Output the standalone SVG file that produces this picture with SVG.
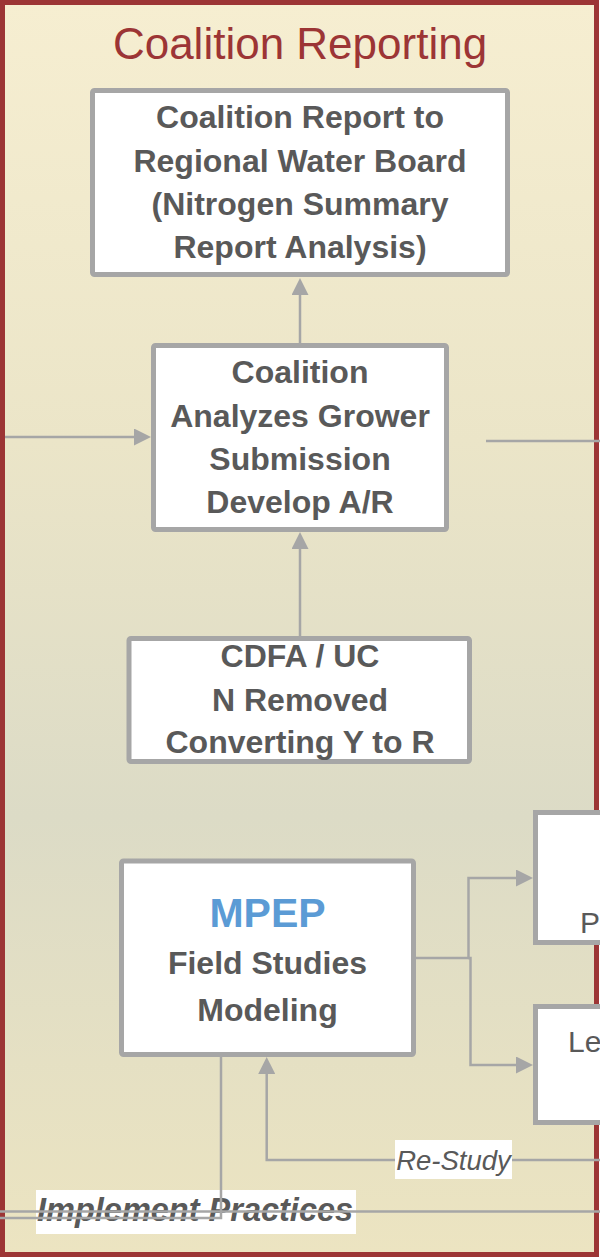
<svg xmlns="http://www.w3.org/2000/svg" width="600" height="1257" viewBox="0 0 600 1257">
  <defs>
    <linearGradient id="panelFill" x1="0" y1="0" x2="0" y2="1">
      <stop offset="0" stop-color="#f6eed1"/>
      <stop offset="0.35" stop-color="#ebe5c8"/>
      <stop offset="0.65" stop-color="#dcdbc6"/>
      <stop offset="1" stop-color="#ece4c1"/>
    </linearGradient>
    <marker id="arrow" markerUnits="userSpaceOnUse" markerWidth="17" markerHeight="17" refX="11" refY="8.5" orient="auto">
      <path d="M0,0 L17,8.5 L0,17 Z" fill="#a6a6a6"/>
    </marker>
    <style>
      .box { fill: #ffffff; stroke: #a6a6a6; stroke-width: 5; }
      .lbl { font-family: "Liberation Sans", Arial, sans-serif; font-weight: bold; font-size: 32px; fill: #595959; text-anchor: middle; }
      .plain { font-family: "Liberation Sans", Arial, sans-serif; font-size: 30px; fill: #595959; }
      .wire { fill: none; stroke: #a6a6a6; stroke-width: 2.5; }
      .tag { fill: #ffffff; }
    </style>
  </defs>

  <!-- panel background and frame -->
  <rect x="2.5" y="2.5" width="594" height="1252" fill="url(#panelFill)" stroke="#9c3535" stroke-width="5"/>
  <text x="300" y="59" font-family="'Liberation Sans', Arial, sans-serif" font-size="44" fill="#9c3535" text-anchor="middle">Coalition Reporting</text>

  <!-- partially visible boxes on the right edge -->
  <g id="node-right-top">
    <rect class="box" x="535.5" y="812.5" width="100" height="130"/>
    <text class="plain" x="580" y="933">P</text>
  </g>
  <g id="node-right-bottom">
    <rect class="box" x="535.5" y="1006.5" width="100" height="116"/>
    <text class="plain" x="568" y="1052">Le</text>
  </g>

  <g id="node-report">
    <rect class="box" x="92.5" y="90.5" width="415" height="184" rx="2"/>
    <text class="lbl" x="300" y="128">Coalition Report to</text>
    <text class="lbl" x="300" y="172">Regional Water Board</text>
    <text class="lbl" x="300" y="215">(Nitrogen Summary</text>
    <text class="lbl" x="300" y="258">Report Analysis)</text>
  </g>

  <g id="node-analyze">
    <rect class="box" x="153.5" y="345.5" width="293" height="184" rx="2"/>
    <text class="lbl" x="300" y="383">Coalition</text>
    <text class="lbl" x="300" y="427">Analyzes Grower</text>
    <text class="lbl" x="300" y="470">Submission</text>
    <text class="lbl" x="300" y="513">Develop A/R</text>
  </g>

  <g id="node-cdfa">
    <rect class="box" x="129" y="638.5" width="340.5" height="123" rx="2"/>
    <text class="lbl" x="300" y="667">CDFA / UC</text>
    <text class="lbl" x="300" y="711">N Removed</text>
    <text class="lbl" x="300" y="753">Converting Y to R</text>
  </g>

  <g id="node-mpep">
    <rect class="box" x="121.5" y="861" width="292" height="193.5" rx="2"/>
    <text class="lbl" x="267.5" y="927" style="fill:#5b9bd5;font-size:41px">MPEP</text>
    <text class="lbl" x="267.5" y="974">Field Studies</text>
    <text class="lbl" x="267.5" y="1021">Modeling</text>
  </g>

  <!-- label that the bottom lines run across -->
  <g id="label-implement">
    <rect class="tag" x="36" y="1190" width="320" height="44"/>
    <text x="37" y="1221" font-family="'Liberation Sans', Arial, sans-serif" font-size="32.5" font-weight="bold" font-style="italic" fill="#595959">Implement Practices</text>
  </g>

  <g id="connectors">
    <path class="wire" d="M300,343 V284" marker-end="url(#arrow)"/>
    <path class="wire" d="M300,636 V538" marker-end="url(#arrow)"/>
    <path class="wire" d="M5,437 H145" marker-end="url(#arrow)"/>
    <path class="wire" d="M486,441 H600"/>
    <path class="wire" d="M416,958 H468.5 V878 H527" marker-end="url(#arrow)"/>
    <path class="wire" d="M468,958 H470.5 V1065 H527" marker-end="url(#arrow)"/>
    <path class="wire" d="M600,1160 H266.7 V1063" marker-end="url(#arrow)"/>
    <path class="wire" d="M221,1057 V1218 H0"/>
    <path class="wire" d="M0,1211.5 H600"/>
  </g>

  <g id="label-restudy">
    <rect class="tag" x="395" y="1140" width="117" height="39"/>
    <text x="453.5" y="1170" font-family="'Liberation Sans', Arial, sans-serif" font-size="27.5" font-style="italic" fill="#595959" text-anchor="middle">Re-Study</text>
  </g>
</svg>
